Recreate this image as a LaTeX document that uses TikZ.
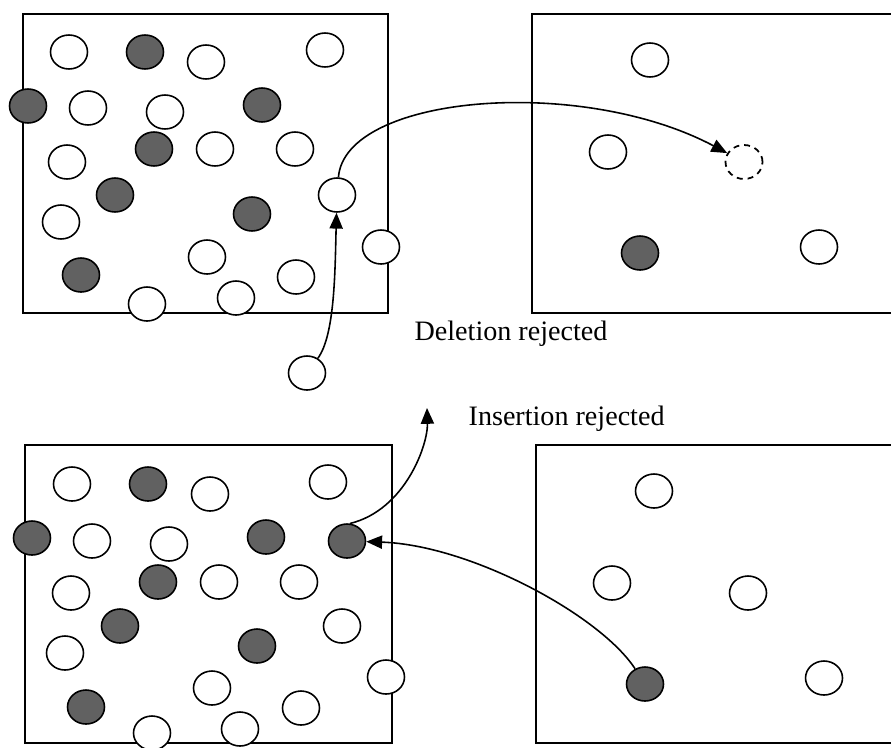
\documentclass[tikz,border=0pt]{standalone}
\usepackage{fontspec}
\setmainfont{Liberation Serif}
\usetikzlibrary{shapes.geometric,arrows.meta}
\begin{document}
\begin{tikzpicture}[x=0.02cm,y=-0.02cm,line width=0.9pt,
    wball/.style={ellipse,draw,fill=white,minimum width=0.74cm,minimum height=0.68cm,inner sep=0pt},
    gball/.style={wball,fill=black!62},
    xball/.style={wball,line width=1pt,dash pattern=on 3.4pt off 2.8pt},
    lbl/.style={anchor=base west,font=\fontsize{16}{19}\selectfont},
    arr/.style={-{Triangle[length=9pt,width=7.5pt]}}]
      \useasboundingbox (0,0) rectangle (891,747);
      \draw (23,14) rectangle (388,313);
      \draw (532,14) rectangle (895,313);
      \draw (25,445) rectangle (392,743);
      \draw (536,445) rectangle (895,743);
      % before
      \draw
        (69,52) node[wball] (a1){}
        (145,52) node[gball] (a2){}
        (206,62) node[wball] (a3){}
        (325,50) node[wball] (a4){}
        (28,106) node[gball] (a5){}
        (88,108) node[wball] (a6){}
        (165,112) node[wball] (a7){}
        (262,105) node[gball] (a8){}
        (67,162) node[wball] (a9){}
        (154,149) node[gball] (a10){}
        (215,149) node[wball] (a11){}
        (295,149) node[wball] (a12){}
        (115,195) node[gball] (a13){}
        (337,195) node[wball] (a14){}
        (61,222) node[wball] (a15){}
        (252,214) node[gball] (a16){}
        (381,247) node[wball] (a17){}
        (81,275) node[gball] (a18){}
        (207,257) node[wball] (a19){}
        (296,277) node[wball] (a20){}
        (147,304) node[wball] (a21){}
        (236,298) node[wball] (a22){}
        (307,373) node[wball] (new){};
      \draw
        (650,60) node[wball] (c1){}
        (608,152) node[wball] (c2){}
        (744,162) node[xball] (gone){}
        (640,253) node[gball] (c3){}
        (819,247) node[wball] (c4){};
      % after
      \draw
        (72,484) node[wball] (b1){}
        (148,484) node[gball] (b2){}
        (210,494) node[wball] (b3){}
        (328,482) node[wball] (b4){}
        (32,538) node[gball] (b5){}
        (92,541) node[wball] (b6){}
        (169,544) node[wball] (b7){}
        (266,537) node[gball] (b8){}
        (347,541) node[gball] (b9){}
        (71,593) node[wball] (b10){}
        (158,582) node[gball] (b11){}
        (219,582) node[wball] (b12){}
        (299,582) node[wball] (b13){}
        (120,626) node[gball] (b14){}
        (342,626) node[wball] (b15){}
        (65,653) node[wball] (b16){}
        (257,646) node[gball] (b17){}
        (386,677) node[wball] (b18){}
        (86,707) node[gball] (b19){}
        (212,688) node[wball] (b20){}
        (301,708) node[wball] (b21){}
        (152,733) node[wball] (b22){}
        (240,729) node[wball] (b23){};
      \draw
        (654,491) node[wball] (d1){}
        (612,583) node[wball] (d2){}
        (748,593) node[wball] (d3){}
        (645,684) node[gball] (d4){}
        (824,678) node[wball] (d5){};
      \node[lbl] (del) at (408,340) {Deletion rejected};
      \node[lbl] (ins) at (462,425) {Insertion rejected};
      \coordinate (up) at (427,408);
      \begin{scope}[arr]
        \draw (new) .. controls (335,335) and (335,270) .. (a14);
        \draw (a14) .. controls (345,95) and (580,75) .. (gone);
        \draw (d4) .. controls (600,615) and (470,545) .. (b9);
        \draw (b9.80) .. controls (405,510) and (428,445) .. (up);
      \end{scope}
    \end{tikzpicture}
\end{document}
